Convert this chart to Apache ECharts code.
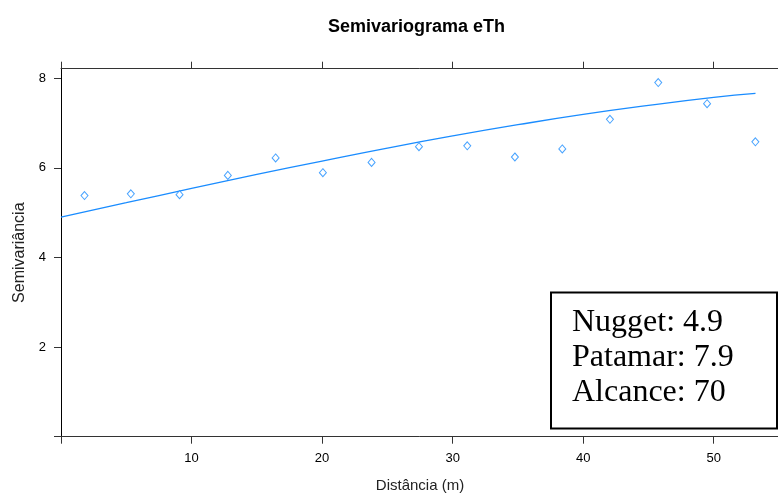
<!DOCTYPE html>
<html>
<head>
<meta charset="utf-8">
<script src="https://cdn.jsdelivr.net/npm/echarts@6/dist/echarts.min.js"></script>
<style>html,body{margin:0;padding:0;background:#fff}#c{width:778px;height:494px}</style>
</head>
<body>
<div id="c"></div>
<script>
// Empirical semivariogram points
const distances = [1.8, 5.35, 9.08, 12.78, 16.44, 20.06, 23.79, 27.42, 31.12, 34.77, 38.4, 42.05, 45.75, 49.49, 53.19];
const semivariances = [5.38, 5.42, 5.40, 5.83, 6.22, 5.89, 6.12, 6.47, 6.49, 6.24, 6.42, 7.08, 7.90, 7.43, 6.58];
// Fitted model curve
const modelX = [0, 5, 10, 15, 20, 25, 30, 35, 40, 45, 50, 53.2];
const modelY = [4.90, 5.22, 5.54, 5.85, 6.15, 6.44, 6.71, 6.96, 7.19, 7.39, 7.57, 7.66];
// Ticks
const xTicks = [0, 10, 20, 30, 40, 50];
const xTickLabels = [10, 20, 30, 40, 50];
const yTicks = [0, 2, 4, 6, 8];
const yTickLabels = [2, 4, 6, 8];
// Annotation
const infoLines = ['Nugget: 4.9', 'Patamar: 7.9', 'Alcance: 70'];

const chart = echarts.init(document.getElementById('c'), null, {renderer: 'canvas'});
const axisCol = '#333';
const sans = 'Liberation Sans';
chart.setOption({
  animation: false,
  title: {
    text: 'Semivariograma eTh',
    left: 411.5, top: 13, textAlign: 'center',
    textStyle: {fontFamily: sans, fontSize: 18, fontWeight: 'bold', color: '#000'}
  },
  grid: {left: 61, right: -1, top: 68.7, bottom: 57.3, containLabel: false, outerBoundsMode: 'none'},
  xAxis: [{
    type: 'value', min: 0, max: 55, position: 'bottom',
    name: 'Distância (m)', nameLocation: 'middle', nameGap: 42,
    nameTextStyle: {fontFamily: sans, fontSize: 15, color: '#222'},
    axisLine: {show: true, onZero: false, lineStyle: {color: axisCol, width: 1}},
    axisTick: {show: true, length: 7, lineStyle: {color: axisCol}, customValues: xTicks},
    axisLabel: {show: true, margin: 15, fontFamily: sans, fontSize: 13, color: '#000', customValues: xTickLabels},
    splitLine: {show: false}
  }, {
    type: 'value', min: 0, max: 55, position: 'top',
    axisLine: {show: true, onZero: false, lineStyle: {color: axisCol, width: 1}},
    axisTick: {show: true, length: 7, lineStyle: {color: axisCol}, customValues: xTicks},
    axisLabel: {show: false},
    splitLine: {show: false}
  }],
  yAxis: {
    type: 'value', min: 0, max: 8.21, position: 'left',
    name: 'Semivariância', nameLocation: 'middle', nameGap: 33, nameRotate: 90,
    nameTextStyle: {fontFamily: sans, fontSize: 16, color: '#222'},
    axisLine: {show: true, onZero: false, lineStyle: {color: '#000', width: 1}},
    axisTick: {show: true, length: 7, lineStyle: {color: axisCol}, customValues: yTicks},
    axisLabel: {show: true, margin: 15, fontFamily: sans, fontSize: 13, color: '#000', customValues: yTickLabels},
    splitLine: {show: false}
  },
  series: [{
    type: 'scatter',
    data: distances.map((d, i) => [d, semivariances[i]]),
    symbol: 'diamond', symbolSize: [7, 8],
    itemStyle: {color: '#fff', borderColor: '#1a8cff', borderWidth: 1},
    z: 3
  }, {
    type: 'line',
    data: modelX.map((d, i) => [d, modelY[i]]),
    smooth: true, showSymbol: false,
    lineStyle: {color: '#1a8cff', width: 1.3},
    z: 2
  }],
  graphic: [{
    type: 'rect',
    shape: {x: 551, y: 292.5, width: 226, height: 136},
    style: {fill: '#fff', stroke: '#000', lineWidth: 2},
    z: 10
  }, {
    type: 'text',
    x: 572, y: 305,
    style: {
      text: infoLines.join('\n'),
      font: '32px "Liberation Serif"',
      lineHeight: 35,
      fill: '#000',
      verticalAlign: 'top', align: 'left'
    },
    z: 11
  }]
});
</script>
</body>
</html>
